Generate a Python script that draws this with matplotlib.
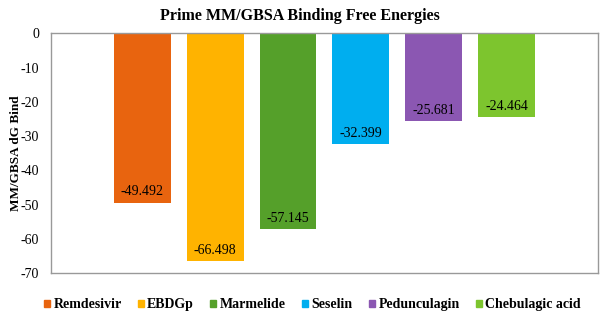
import numpy as np
import matplotlib.pyplot as plt
from matplotlib.patches import Patch

compounds = ["Remdesivir", "EBDGp", "Marmelide", "Seselin", "Pedunculagin", "Chebulagic acid"]
dg_bind = [-49.492, -66.498, -57.145, -32.399, -25.681, -24.464]
colors = ["#E8640F", "#FFB300", "#55A02A", "#00AEEF", "#8B57B2", "#7DC52E"]
yticks = [0, -10, -20, -30, -40, -50, -60, -70]

plt.rcParams['font.family'] = ['Liberation Serif', 'DejaVu Serif']
plt.rcParams['axes.unicode_minus'] = False

fig = plt.figure(figsize=(6.04, 3.17), dpi=100)
ax = fig.add_axes([0.0844, 0.1378, 0.9056, 0.757])

x = np.arange(len(compounds))
ax.bar(x, dg_bind, width=0.78, color=colors)

# value labels sit just inside the end of each bar
for xi, v in zip(x, dg_bind):
    ax.annotate("%.3f" % v, (xi, v), xytext=(0, 8), textcoords="offset points",
                ha="center", va="center", fontsize=10)

ax.set_xlim(-1.25, 6.25)
ax.set_ylim(-70, 0)
ax.set_yticks(yticks)
ax.set_xticks([])
ax.tick_params(axis="y", length=0, labelsize=10, pad=8.5)
for s in ax.spines.values():
    s.set_color("#999999")
    s.set_linewidth(1.0)

ax.set_ylabel("MM/GBSA dG Bind", fontsize=9.5, fontweight="bold")
ax.yaxis.set_label_coords(-0.053, 0.5)
fig.text(0.497, 0.95, "Prime MM/GBSA Binding Free Energies", ha="center", va="center",
         fontsize=11.5, fontweight="bold")

handles = [Patch(color=c, label=n) for c, n in zip(colors, compounds)]
fig.legend(handles=handles, loc="center", bbox_to_anchor=(0.517, 0.038), ncol=6,
           frameon=False, prop={"weight": "bold", "size": 10},
           handlelength=0.45, handleheight=0.45, handletextpad=0.25, columnspacing=1.15)

fig.savefig("out.png", dpi=100)
